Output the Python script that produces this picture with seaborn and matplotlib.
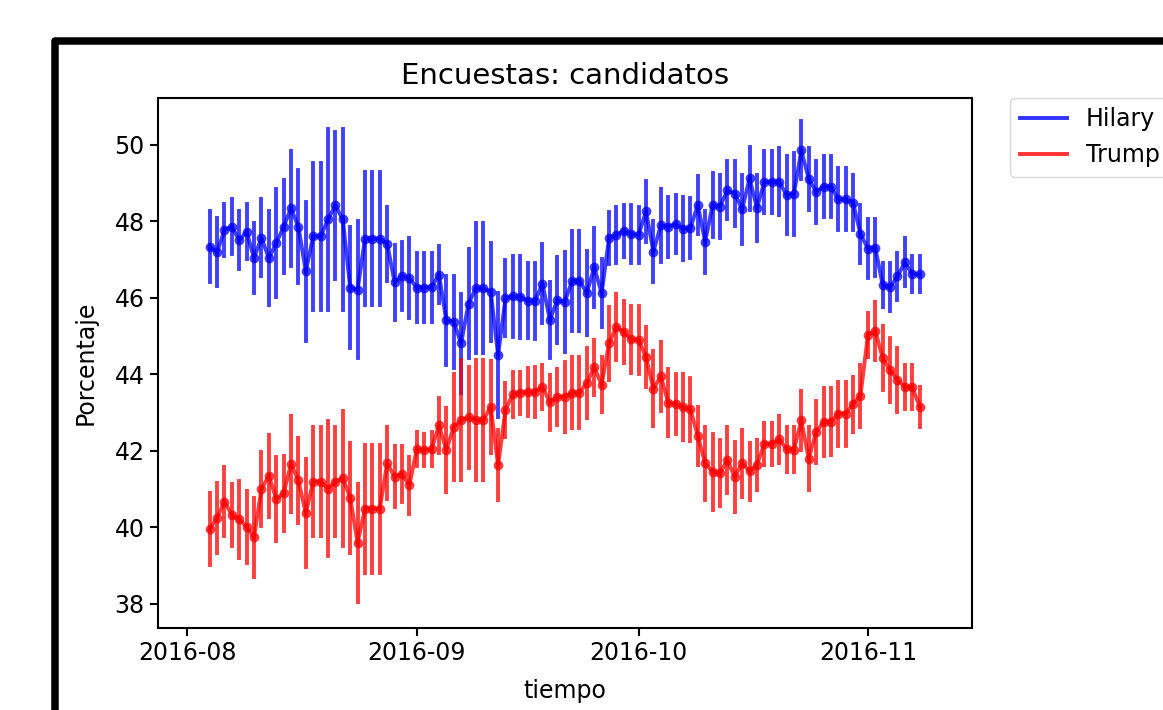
import numpy as np
import pandas as pd
import matplotlib
matplotlib.use('Agg')
import matplotlib.pyplot as plt
import matplotlib.dates as mdates
from matplotlib.lines import Line2D
from matplotlib.patches import Rectangle
import seaborn as sns

# datos: promedio diario de encuestas
fechas = pd.date_range('2016-08-04', '2016-11-08', freq='D')

hilary = [47.34, 47.19, 47.78, 47.86, 47.51, 47.73, 47.04, 47.57, 47.04, 47.43,
          47.86, 48.34, 47.86, 46.69, 47.61, 47.61, 48.05, 48.42, 48.05, 46.27,
          46.21, 47.55, 47.55, 47.55, 47.42, 46.41, 46.58, 46.51, 46.27, 46.27,
          46.28, 46.61, 45.41, 45.37, 44.81, 45.85, 46.25, 46.25, 46.16, 44.50,
          45.99, 46.04, 46.02, 45.93, 45.92, 46.37, 45.42, 45.94, 45.89, 46.44,
          46.44, 46.13, 46.80, 46.12, 47.56, 47.64, 47.76, 47.67, 47.65, 48.26,
          47.21, 47.90, 47.86, 47.93, 47.81, 47.82, 48.43, 47.47, 48.43, 48.39,
          48.81, 48.73, 48.32, 49.13, 48.35, 49.03, 49.03, 49.04, 48.69, 48.72,
          49.86, 49.11, 48.78, 48.91, 48.91, 48.58, 48.58, 48.49, 47.67, 47.29,
          47.31, 46.34, 46.28, 46.56, 46.93, 46.62, 46.62]

hilary_err = [0.92, 0.89, 0.68, 0.72, 0.75, 0.72, 0.91, 1.01, 1.22, 1.41,
              1.22, 1.51, 1.48, 1.83, 1.93, 1.93, 2.36, 1.93, 2.36, 1.59,
              1.79, 1.73, 1.73, 1.73, 0.97, 0.98, 0.89, 1.05, 0.90, 0.90,
              0.90, 0.75, 1.17, 1.21, 1.29, 1.42, 1.70, 1.70, 1.28, 1.62,
              1.00, 1.06, 1.08, 0.99, 1.00, 1.04, 1.00, 1.13, 1.30, 1.32,
              1.32, 1.10, 1.03, 0.89, 0.68, 0.73, 0.68, 0.76, 0.74, 0.81,
              0.79, 0.95, 0.79, 0.76, 0.82, 0.79, 0.75, 0.81, 0.83, 0.83,
              0.76, 0.86, 0.90, 0.83, 0.86, 0.80, 0.80, 0.87, 1.03, 1.07,
              0.76, 0.81, 0.81, 0.80, 0.80, 0.81, 0.81, 0.72, 0.76, 0.77,
              0.75, 0.57, 0.63, 0.61, 0.63, 0.48, 0.48]

trump = [39.95, 40.24, 40.67, 40.32, 40.20, 40.01, 39.73, 41.00, 41.34, 40.74,
         40.88, 41.66, 41.22, 40.36, 41.19, 41.19, 41.01, 41.19, 41.28, 40.77,
         39.59, 40.48, 40.48, 40.48, 41.67, 41.32, 41.39, 41.09, 42.04, 42.02,
         42.04, 42.66, 42.02, 42.62, 42.80, 42.87, 42.80, 42.80, 43.15, 41.62,
         43.07, 43.48, 43.52, 43.53, 43.54, 43.67, 43.27, 43.41, 43.41, 43.52,
         43.52, 43.77, 44.18, 43.73, 44.81, 45.24, 45.10, 44.91, 44.90, 44.45,
         43.62, 43.95, 43.26, 43.22, 43.14, 43.08, 42.39, 41.67, 41.45, 41.41,
         41.75, 41.32, 41.67, 41.46, 41.63, 42.18, 42.18, 42.30, 42.04, 42.03,
         42.79, 41.79, 42.49, 42.75, 42.76, 42.97, 42.97, 43.22, 43.44, 45.03,
         45.14, 44.42, 44.11, 43.85, 43.67, 43.67, 43.15]

trump_err = [0.94, 0.91, 0.91, 0.81, 1.00, 0.94, 1.03, 0.97, 1.07, 1.10,
             0.97, 1.26, 1.12, 1.41, 1.42, 1.42, 1.77, 1.42, 1.77, 1.44,
             1.54, 1.67, 1.67, 1.67, 0.94, 0.79, 0.72, 0.75, 0.44, 0.42,
             0.44, 0.72, 1.09, 1.39, 1.57, 1.33, 1.57, 1.57, 1.20, 0.91,
             0.70, 0.59, 0.55, 0.63, 0.65, 0.58, 0.72, 0.74, 0.92, 0.93,
             0.93, 0.92, 0.72, 0.73, 0.96, 0.86, 0.81, 0.88, 0.89, 0.78,
             0.98, 0.90, 0.87, 0.79, 0.86, 0.82, 0.76, 0.96, 0.99, 0.87,
             0.86, 0.92, 0.87, 0.75, 0.65, 0.55, 0.55, 0.61, 0.59, 0.60,
             0.76, 0.82, 0.80, 0.89, 0.87, 0.84, 0.84, 0.72, 0.81, 0.57,
             0.76, 0.83, 0.83, 0.83, 0.58, 0.58, 0.52]

candidatos = ['Hilary', 'Trump']
colores = {'Hilary': 'blue', 'Trump': 'red'}


def tabla_larga(nombre, valores, errores):
    # dos filas por dia (limite inferior y superior), la media es el valor central
    v = np.array(valores)
    e = np.array(errores)
    bajo = pd.DataFrame({'fecha': fechas, 'pct': v - e, 'candidato': nombre})
    alto = pd.DataFrame({'fecha': fechas, 'pct': v + e, 'candidato': nombre})
    return pd.concat([bajo, alto])


df = pd.concat([tabla_larga('Hilary', hilary, hilary_err),
                tabla_larga('Trump', trump, trump_err)], ignore_index=True)

fig = plt.figure(figsize=(11.63, 7.10), dpi=100)
ax = fig.add_axes([0.1359, 0.1155, 0.6999, 0.7465])

sns.lineplot(data=df, x='fecha', y='pct', hue='candidato', hue_order=candidatos,
             palette=colores, estimator='mean',
             errorbar=lambda s: (s.min(), s.max()), err_style='bars',
             err_kws={'elinewidth': 2.8}, marker='o', markersize=7,
             markeredgewidth=0, linewidth=2.8, alpha=0.75, legend=False, ax=ax)

ax.set_xlim(pd.Timestamp('2016-07-28 00:30'), pd.Timestamp('2016-11-15 02:00'))
ax.set_ylim(37.36, 51.23)
ax.xaxis.set_major_locator(mdates.MonthLocator())
ax.xaxis.set_major_formatter(mdates.DateFormatter('%Y-%m'))
ax.set_yticks([38, 40, 42, 44, 46, 48, 50])

ax.set_title('Encuestas: candidatos', fontsize=21, pad=10)
ax.set_xlabel('tiempo', fontsize=17, labelpad=10)
ax.set_ylabel('Porcentaje', fontsize=17, labelpad=12)
ax.tick_params(labelsize=17, length=6, width=1.5)
for s in ax.spines.values():
    s.set_linewidth(1.5)

handles = [Line2D([], [], color=colores[c], lw=2.8, alpha=0.8) for c in candidatos]
ax.legend(handles, candidatos, loc='upper left', bbox_to_anchor=(1.047, 1.0),
          borderaxespad=0, fontsize=17)

# marco negro de la captura
top = 1 - 40.5 / 710
marco = Rectangle((55 / 1163, -0.2), 1.3, top + 0.2,
                  transform=fig.transFigure, fill=False, edgecolor='black',
                  linewidth=5.4, joinstyle='round', clip_on=False)
fig.patches.append(marco)

fig.savefig('out.png', dpi=100)
